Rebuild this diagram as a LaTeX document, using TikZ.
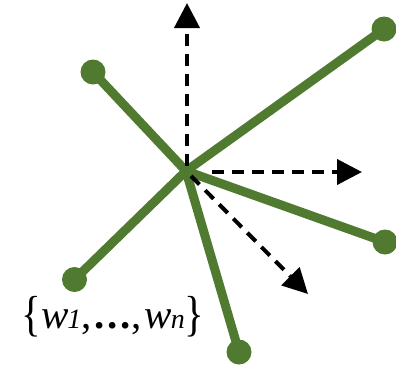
\documentclass[tikz,border=0pt]{standalone}
\usepackage{fontspec}
\setmainfont{Liberation Serif}
\usetikzlibrary{arrows.meta}
\definecolor{leaf}{RGB}{80,122,48}
\newcommand{\tallbrace}[1]{\raisebox{-2pt}{\scalebox{1}[1.2]{#1}}}
\newcommand{\subs}[1]{{\fontsize{28}{30}\selectfont\textit{#1}}}
\tikzset{
  branch/.style={draw=leaf,line width=9pt},
  tip/.style={fill=leaf,draw=none,circle,minimum size=25pt,inner sep=0pt},
  dir/.style={draw=black,line width=4pt,dash pattern=on 12pt off 8pt,
    -{Triangle[length=25pt,width=25pt]}},
}
\begin{document}
\begin{tikzpicture}[x=1pt,y=-1pt]
\useasboundingbox (0,0) rectangle (396,365);
\coordinate (c) at (186,171);
\node[tip] (ul) at (93,72) {};
\node[tip] (ur) at (384,29) {};
\node[tip] (r) at (385,242) {};
\node[tip] (ll) at (74.5,279.5) {};
\node[tip] (b) at (239,352) {};
\foreach \n in {ul,ur,r,ll,b} \draw[branch] (c) -- (\n.center);
\coordinate (up0) at (187,166);
\coordinate (up1) at (187,3);
\coordinate (rt0) at (212,172);
\coordinate (rt1) at (362,172);
\coordinate (dg0) at (191,176);
\coordinate (dg1) at (308,294);
\draw[dir] (up0) -- (up1);
\draw[dir] (rt0) -- (rt1);
\draw[dir] (dg0) -- (dg1);
\node[inner sep=0pt,anchor=base] (lbl) at (113,328) {\fontsize{41}{46}\selectfont\tallbrace{\{}\textit{w}\kern-1pt\subs{1},\kern3pt\textbf{.\kern2.5pt.\kern2.5pt.}\kern1pt,\kern3pt\textit{w}\kern-1pt\subs{n}\tallbrace{\}}};
\end{tikzpicture}
\end{document}
